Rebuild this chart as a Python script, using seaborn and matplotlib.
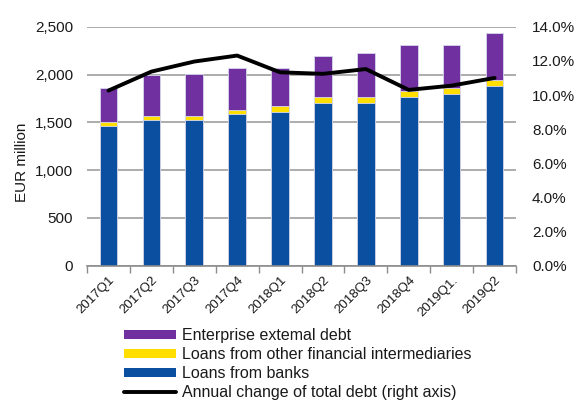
import numpy as np
import pandas as pd
import matplotlib
matplotlib.use("Agg")
import matplotlib.pyplot as plt
import seaborn as sns
from matplotlib.patches import Patch
from matplotlib.lines import Line2D

quarters = ["2017Q1", "2017Q2", "2017Q3", "2017Q4", "2018Q1",
            "2018Q2", "2018Q3", "2018Q4", "2019Q1.", "2019Q2"]
loans_banks = [1465, 1528, 1528, 1588, 1610, 1697, 1697, 1760, 1797, 1880]
loans_other_fi = [40, 42, 42, 45, 65, 63, 63, 64, 63, 62]
external_debt = [356, 420, 440, 437, 395, 430, 468, 480, 444, 495]
annual_change = [10.26, 11.37, 11.96, 12.31, 11.33, 11.24, 11.52, 10.30, 10.55, 11.0]
left_ticks = [0, 500, 1000, 1500, 2000, 2500]
right_ticks = [0, 2, 4, 6, 8, 10, 12, 14]
labels = ["Enterprise extemal debt",
          "Loans from other financial intermediaries",
          "Loans from banks",
          "Annual change of total debt (right axis)"]

PURPLE = "#7030A0"
YELLOW = "#FFDE00"
BLUE = "#0A4FA0"
GRID = "#a6a6a6"
TXT = "#1a1a1a"

sns.set_theme(style="white")
plt.rcParams["font.family"] = ["Liberation Sans", "DejaVu Sans"]

df = pd.DataFrame({"quarter": quarters, "banks": loans_banks,
                   "other": loans_other_fi, "ext": external_debt})
df["lvl_banks"] = df["banks"]
df["lvl_other"] = df["banks"] + df["other"]
df["lvl_total"] = df["lvl_other"] + df["ext"]

fig = plt.figure(figsize=(5.77, 4.0), dpi=100)
L, R, T, B = 87, 516, 26.7, 265.8
ax = fig.add_axes([L / 577, 1 - B / 400, (R - L) / 577, (B - T) / 400])

for col, c in [("lvl_total", PURPLE), ("lvl_other", YELLOW), ("lvl_banks", BLUE)]:
    sns.barplot(data=df, x="quarter", y=col, color=c, saturation=1, width=0.41,
                edgecolor="#d8d8ec", linewidth=0.6, ax=ax, zorder=2)

ax.set_xlim(-0.5, len(quarters) - 0.5)
ax.set_ylim(0, 2500)
ax.set_yticks(left_ticks)
ax.set_yticklabels([f"{v:,}" for v in left_ticks], fontsize=11, color=TXT)
ax.yaxis.grid(True, color=GRID, linewidth=1.3, zorder=0)
ax.set_axisbelow(True)
ax.tick_params(axis="y", length=0, pad=10)
ax.set_xticks(range(len(quarters)))
ax.set_xticklabels(quarters, rotation=45, ha="right", va="top",
                   rotation_mode="anchor", fontsize=9.5, color=TXT)
ax.set_xticks(np.arange(-0.5, len(quarters)), minor=True)
ax.tick_params(axis="x", which="major", length=0, pad=6)
ax.tick_params(axis="x", which="minor", length=5, width=1, color="#8c8c8c",
               direction="out", bottom=True)
ax.set_xlabel("")
ax.set_ylabel("EUR million", fontsize=11, color=TXT)
ax.yaxis.set_label_coords(-0.135, 0.434)
for s in ["top", "right", "left"]:
    ax.spines[s].set_visible(False)
ax.spines["bottom"].set_color("#8c8c8c")
ax.spines["bottom"].set_linewidth(1.2)

ax2 = ax.twinx()
sns.lineplot(x=np.arange(len(quarters)), y=annual_change, color="black",
             linewidth=2.8, ax=ax2)
ax2.set_ylim(0, 14)
ax2.set_yticks(right_ticks)
ax2.set_yticklabels([f"{v:.1f}%" for v in right_ticks], fontsize=11, color=TXT)
ax2.tick_params(axis="y", length=0, pad=11.5)
ax2.grid(False)
for s in ax2.spines.values():
    s.set_visible(False)
ax2.set_xlim(-0.5, len(quarters) - 0.5)

handles = [Patch(facecolor=PURPLE, edgecolor="none"),
           Patch(facecolor=YELLOW, edgecolor="none"),
           Patch(facecolor=BLUE, edgecolor="none"),
           Line2D([0], [0], color="black", linewidth=2.8)]
fig.legend(handles, labels, loc="upper left", bbox_to_anchor=(124 / 577, 1 - 328 / 400),
           frameon=False, fontsize=11.5, handlelength=3.25, handleheight=0.5,
           handletextpad=0.38, labelspacing=0.26, borderpad=0, borderaxespad=0,
           labelcolor=TXT)

fig.savefig("out.png", dpi=100)
